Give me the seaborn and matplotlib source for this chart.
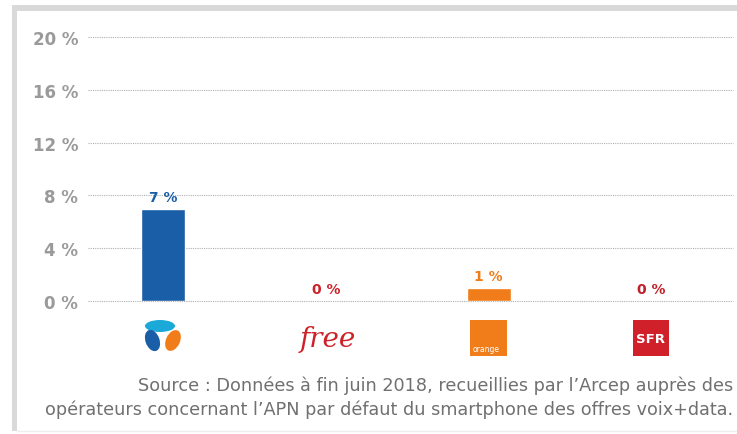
import numpy as np
import pandas as pd
import matplotlib.pyplot as plt
import seaborn as sns
from matplotlib.patches import Rectangle, Ellipse

# data
operators = ["Bouygues Telecom", "Free", "Orange", "SFR"]
shares = [7, 0, 1, 0]
value_labels = ["7 %", "0 %", "1 %", "0 %"]
ytick_vals = [0, 4, 8, 12, 16, 20]
ytick_labels = ["0 %", "4 %", "8 %", "12 %", "16 %", "20 %"]
source_lines = ["Source : Données à fin juin 2018, recueillies par l’Arcep auprès des",
                "opérateurs concernant l’APN par défaut du smartphone des offres voix+data."]

COLORS = {"Bouygues Telecom": "#1a5ea8", "Free": "#cc2229",
          "Orange": "#f07d1a", "SFR": "#c0202a"}

df = pd.DataFrame({"Operator": operators, "Share": shares})

sns.set_theme(style="white")
plt.rcParams['font.family'] = ['DejaVu Sans']

W, H = 737, 435
fig = plt.figure(figsize=(W / 100, H / 100), dpi=100)

# overlay in pixel coords for frame, logos and source note
ov = fig.add_axes([0, 0, 1, 1], zorder=0)
ov.set_xlim(0, W)
ov.set_ylim(H, 0)
ov.axis("off")

ax = fig.add_axes([88 / W, 1 - 302 / H, (733 - 88) / W, (302 - 38) / H], zorder=1)
ax.patch.set_alpha(0)

sns.barplot(data=df, x="Operator", y="Share", hue="Operator", palette=COLORS,
            order=operators, width=0.27, legend=False, ax=ax, saturation=1, zorder=3)

ax.set_ylim(0, 20)
ax.set_xlim(-0.46, 3.5)
ax.set_yticks(ytick_vals)
ax.set_yticklabels(ytick_labels, fontsize=12, fontweight="bold", color="#9a9a9a")
ax.tick_params(axis="y", length=0, pad=7)
ax.set_xticks([])
ax.set_xlabel("")
ax.set_ylabel("")
for s in ax.spines.values():
    s.set_visible(False)
for v in ytick_vals:
    ax.axhline(v, color="#b0b0b0", linestyle=(0, (1, 1)), linewidth=0.8, zorder=1, clip_on=False)

# value labels
for i, (op, val, lab) in enumerate(zip(operators, shares, value_labels)):
    ax.annotate(lab, (i, val), xytext=(0, 3.5), textcoords="offset points",
                ha="center", va="bottom", fontsize=10, fontweight="bold", color=COLORS[op])

# frame
ov.add_patch(Rectangle((12, 6), W - 12, 6, color="#d9d9d9", lw=0))
ov.add_patch(Rectangle((12, 6), 5, 426, color="#d9d9d9", lw=0))
ov.plot([17, W], [432, 432], color="#eeeeee", lw=1)

# Bouygues logo
ov.add_patch(Ellipse((160, 327), 30, 12, color="#1aa9d9", lw=0))
ov.add_patch(Ellipse((152.5, 341.5), 14, 22, angle=-20, color="#1a5ea8", lw=0))
ov.add_patch(Ellipse((173, 341.5), 14, 22, angle=25, color="#f07d1a", lw=0))
# Free
ov.text(328, 340, "free", ha="center", va="center", fontsize=20, style="italic",
        family="DejaVu Serif", color="#cc2229")
# Orange
ov.add_patch(Rectangle((470, 321), 37, 36, color="#f07d1a", lw=0))
ov.text(473, 354, "orange", ha="left", va="bottom", fontsize=5.5, color="white")
# SFR
ov.add_patch(Rectangle((633, 321), 36, 36, color="#d0202a", lw=0))
ov.text(651, 340, "SFR", ha="center", va="center", fontsize=9.5, fontweight="bold", color="white")

# source
ov.text(733, 386, source_lines[0], ha="right", va="center", fontsize=12.7, color="#707070")
ov.text(733, 410, source_lines[1], ha="right", va="center", fontsize=12.7, color="#707070")

fig.savefig("out.png", dpi=100)
